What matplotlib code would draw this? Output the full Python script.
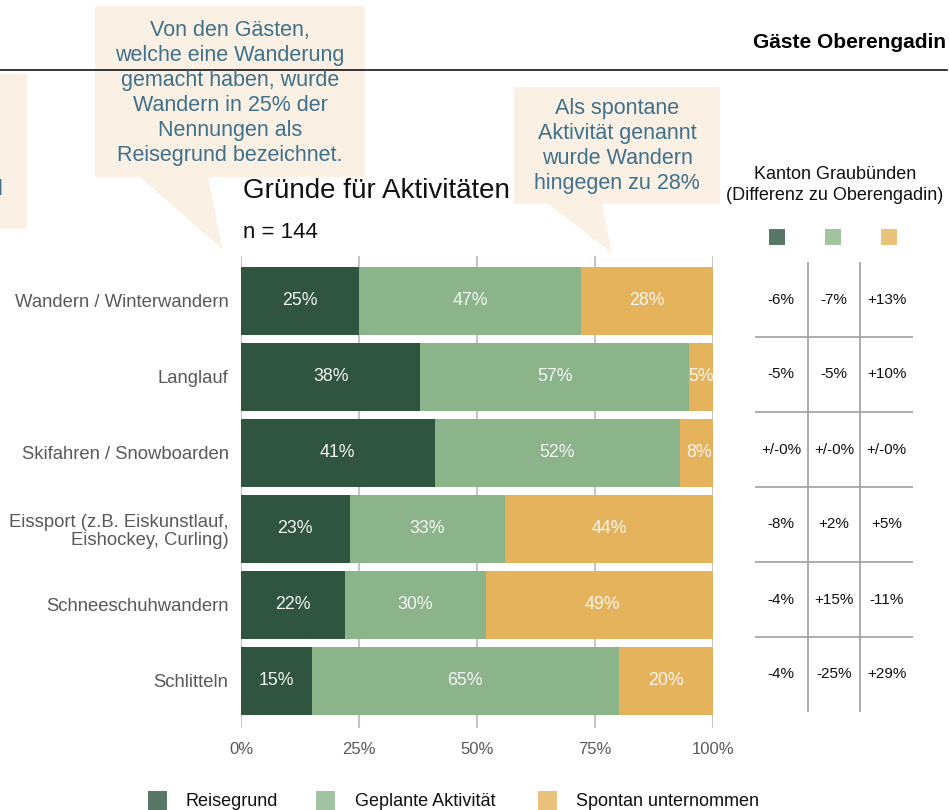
import numpy as np
import matplotlib
matplotlib.use("Agg")
import matplotlib.pyplot as plt
from matplotlib.patches import Polygon, Rectangle

plt.rcParams['font.family'] = ['Liberation Sans', 'DejaVu Sans']

# Anteile je Aktivität (Oberengadin)
activities = ['Wandern / Winterwandern', 'Langlauf', 'Skifahren / Snowboarden',
              'Eissport (z.B. Eiskunstlauf,\nEishockey, Curling)',
              'Schneeschuhwandern', 'Schlitteln']
reisegrund = [25, 38, 41, 23, 22, 15]
geplant = [47, 57, 52, 33, 30, 65]
spontan = [28, 5, 8, 44, 49, 20]
series_names = ['Reisegrund', 'Geplante Aktivität', 'Spontan unternommen']
series_colors = ['#2f5540', '#8bb48b', '#e5b35b']

# Differenz Kanton Graubünden zu Oberengadin
diff_table = [['-6%', '-7%', '+13%'],
              ['-5%', '-5%', '+10%'],
              ['+/-0%', '+/-0%', '+/-0%'],
              ['-8%', '+2%', '+5%'],
              ['-4%', '+15%', '-11%'],
              ['-4%', '-25%', '+29%']]

xticks = [0, 25, 50, 75, 100]
W, H = 949, 810

fig = plt.figure(figsize=(W / 100, H / 100), dpi=100)

# --- gestapelte Balken ---
ax = fig.add_axes([241 / W, 1 - 728 / H, 472 / W, 472 / H])
y = np.arange(len(activities))
left = np.zeros(len(activities))
for vals, name, col in zip([reisegrund, geplant, spontan], series_names, series_colors):
    vals = np.array(vals, dtype=float)
    ax.barh(y, vals, left=left, height=0.89, color=col, zorder=3, label=name)
    for yi, (l, v) in enumerate(zip(left, vals)):
        ax.text(l + v / 2, yi, '%d%%' % v, ha='center', va='center',
                color='#f4f4f4', fontsize=12.8, zorder=4)
    left += vals

ax.set_xlim(0, 100)
ax.set_ylim(5.62, -0.59)
ax.set_xticks(xticks)
ax.set_xticklabels(['%d%%' % t for t in xticks])
ax.set_yticks(y)
ax.set_yticklabels(activities)
for lbl in ax.get_yticklabels():
    lbl.set_linespacing(1.05)
    lbl.set_multialignment('right')
ax.tick_params(axis='x', length=0, pad=10, labelsize=12, labelcolor='#595959')
ax.tick_params(axis='y', length=0, pad=9, labelsize=13.3, labelcolor='#595959')
ax.grid(axis='x', color='#c6c6c6', linewidth=1.5, zorder=0)
for s in ax.spines.values():
    s.set_visible(False)

# --- Tabelle Kanton Graubünden ---
tab = fig.add_axes([755 / W, 1 - 712 / H, 158 / W, 450 / H])
tab.set_xlim(0, 3)
tab.set_ylim(6, 0)
tab.axis('off')
for k in range(1, 6):
    tab.axhline(k, color='#a0a0a0', linewidth=1.2)
for k in range(1, 3):
    tab.axvline(k, color='#a0a0a0', linewidth=1.2)
for i, row in enumerate(diff_table):
    for j, cell in enumerate(row):
        tab.text(j + 0.5, i + 0.5, cell, ha='center', va='center',
                 fontsize=11, color='#111111')

# --- Überlagerung in Pixelkoordinaten: Kopf, Sprechblasen, Legende ---
ov = fig.add_axes([0, 0, 1, 1], zorder=5)
ov.set_xlim(0, W)
ov.set_ylim(H, 0)
ov.axis('off')

ov.plot([0, 947], [70, 70], color='black', linewidth=1.1)
ov.text(946, 42, 'Gäste Oberengadin', ha='right', va='center',
        fontsize=15, fontweight='bold', color='black')

bubble = '#faf1e4'
note_color = '#3f708c'
ov.add_patch(Rectangle((0, 74), 27, 155, facecolor=bubble, edgecolor='none'))
ov.text(3, 189, 'Reisegrund', ha='right', va='center', fontsize=15.5, color=note_color)
ov.add_patch(Polygon([(95, 6), (365, 6), (365, 177), (208, 177), (223, 250),
                      (140, 177), (95, 177)], closed=True,
                     facecolor=bubble, edgecolor='none'))
ov.text(230, 93, 'Von den Gästen,\nwelche eine Wanderung\ngemacht haben, wurde\n'
        'Wandern in 25% der\nNennungen als\nReisegrund bezeichnet.',
        ha='center', va='center', fontsize=15.5, color=note_color, linespacing=1.25)
ov.add_patch(Polygon([(514, 87), (720, 87), (720, 204), (602, 204), (612, 253),
                      (548, 204), (514, 204)], closed=True,
                     facecolor=bubble, edgecolor='none'))
ov.text(617, 146, 'Als spontane\nAktivität genannt\nwurde Wandern\nhingegen zu 28%',
        ha='center', va='center', fontsize=15.5, color=note_color, linespacing=1.25)

ov.text(243, 191, 'Gründe für Aktivitäten', ha='left', va='center',
        fontsize=20, color='#111111')
ov.text(243, 232, 'n = 144', ha='left', va='center', fontsize=16, color='#111111')

ov.text(835, 185, 'Kanton Graubünden\n(Differenz zu Oberengadin)', ha='center',
        va='center', fontsize=13, color='#111111', linespacing=1.25)
for cx, col in zip([777, 833, 889], series_colors):
    ov.add_patch(Rectangle((cx - 8, 229), 16, 16, facecolor=col, alpha=0.8,
                           edgecolor='none'))

for (sx, tx), name, col in zip([(148, 186), (316, 355), (538, 576)],
                               series_names, series_colors):
    ov.add_patch(Rectangle((sx, 791), 19, 19, facecolor=col, alpha=0.8,
                           edgecolor='none'))
    ov.text(tx, 801, name, ha='left', va='center', fontsize=13, color='#111111')

fig.savefig('out.png', dpi=100)
